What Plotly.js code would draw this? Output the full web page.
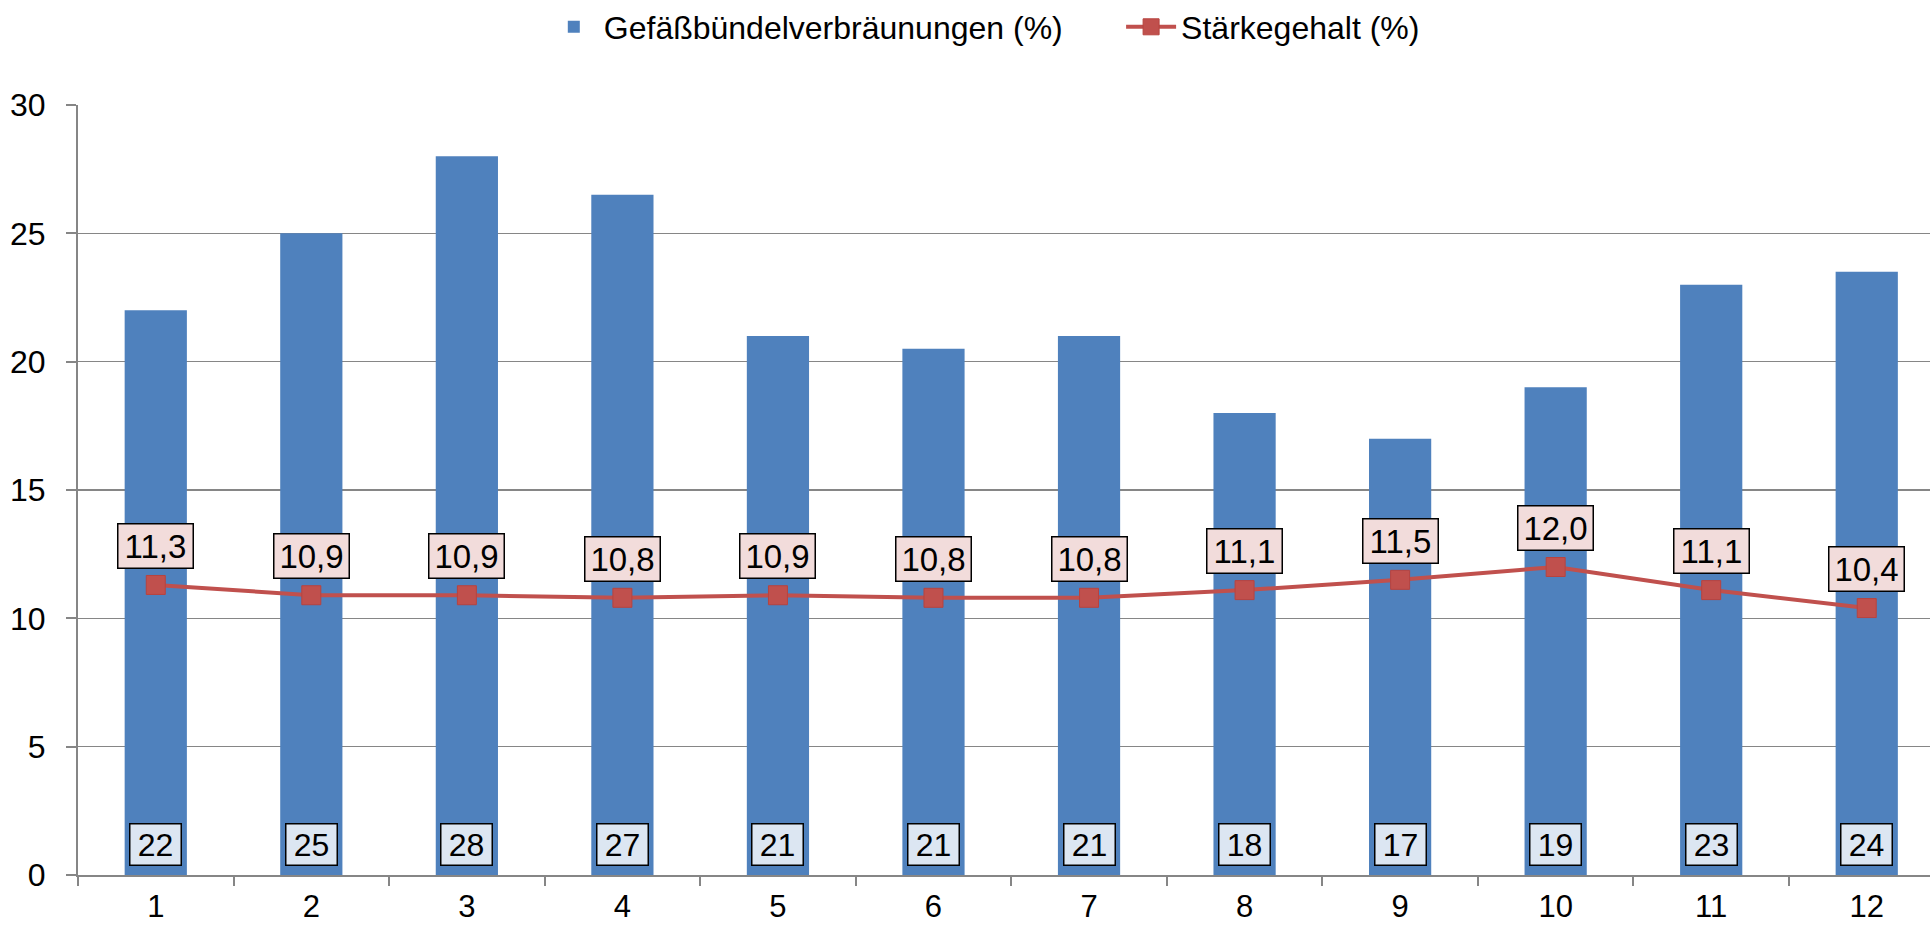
<!DOCTYPE html>
<html>
<head>
<meta charset="utf-8">
<script src="https://cdn.plot.ly/plotly-3.0.1.min.js"></script>
<style>html,body{margin:0;padding:0;background:#fff;}#chart{width:1930px;height:926px;}</style>
</head>
<body>
<div id="chart"></div>
<script>
const categories = ["1","2","3","4","5","6","7","8","9","10","11","12"];
const browning = [22, 25, 28, 26.5, 21, 20.5, 21, 18, 17, 19, 23, 23.5];
const starch = [11.3, 10.9, 10.9, 10.8, 10.9, 10.8, 10.8, 11.1, 11.5, 12.0, 11.1, 10.4];
const yTicks = [0, 5, 10, 15, 20, 25, 30];
const barName = "Gefäßbündelverbräunungen (%)";
const lineName = "Stärkegehalt (%)";

const fontFam = "Liberation Sans, Arial, sans-serif";
const pad = "\u00a0\u00a0\u00a0\u00a0\u00a0\u00a0";

const traces = [
  {
    type: "bar", name: barName + pad, x: categories, y: browning,
    marker: {color: "#4f81bd", line: {width: 0}},
    width: 0.4
  },
  {
    type: "scatter", mode: "lines+markers", name: lineName, x: categories, y: starch,
    line: {color: "#c0504d", width: 4},
    marker: {symbol: "square", size: 19, color: "#c0504d", line: {color: "#b8433f", width: 1}}
  }
];

const annotations = [];
categories.forEach((c, i) => {
  annotations.push({
    x: i, y: starch[i], xref: "x", yref: "y",
    text: starch[i].toFixed(1).replace(".", ","),
    showarrow: false, yshift: 39,
    font: {family: fontFam, size: 33, color: "#000"},
    bgcolor: "#f2dcdb", bordercolor: "#000", borderwidth: 1.5, borderpad: 4,
    width: 66, height: 35
  });
  annotations.push({
    x: i, y: 0, xref: "x", yref: "y",
    text: String(Math.round(browning[i])),
    showarrow: false, yshift: 31,
    font: {family: fontFam, size: 32, color: "#000"},
    bgcolor: "#dce6f2", bordercolor: "#000", borderwidth: 1.5, borderpad: 3,
    width: 44, height: 34
  });
});

const layout = {
  width: 1930, height: 926,
  margin: {l: 78, r: 0, t: 105, b: 51, pad: 0},
  paper_bgcolor: "#fff", plot_bgcolor: "#fff",
  font: {family: fontFam, size: 32, color: "#000"},
  showlegend: true,
  legend: {
    orientation: "h", xref: "container", yref: "container",
    x: 0.510, xanchor: "center", y: 1 - 27/926, yanchor: "middle",
    font: {family: fontFam, size: 32, color: "#000"},
    itemwidth: 50, tracegroupgap: 0, traceorder: "normal"
  },
  xaxis: {
    type: "category", range: [-0.5, 11.4067],
    showgrid: false, showline: true, linecolor: "#868686", linewidth: 2,
    ticks: "outside", tickson: "boundaries", ticklen: 9, tickcolor: "#868686", tickwidth: 2,
    tickfont: {family: fontFam, size: 31, color: "#000"},
    ticklabelstandoff: 3,
    fixedrange: true, zeroline: false
  },
  yaxis: {
    range: [0, 30], tickvals: yTicks, ticktext: yTicks.map(String),
    showgrid: true, gridcolor: "#868686", gridwidth: 1.5,
    showline: true, linecolor: "#868686", linewidth: 2,
    ticks: "outside", ticklen: 10, tickcolor: "#868686", tickwidth: 2,
    tickfont: {family: fontFam, size: 32, color: "#000"},
    ticklabelstandoff: 14,
    zeroline: false, fixedrange: true
  },
  bargap: 0.6,
  annotations: annotations,
  hovermode: false
};

Plotly.newPlot("chart", traces, layout, {staticPlot: true, displayModeBar: false});
</script>
</body>
</html>
